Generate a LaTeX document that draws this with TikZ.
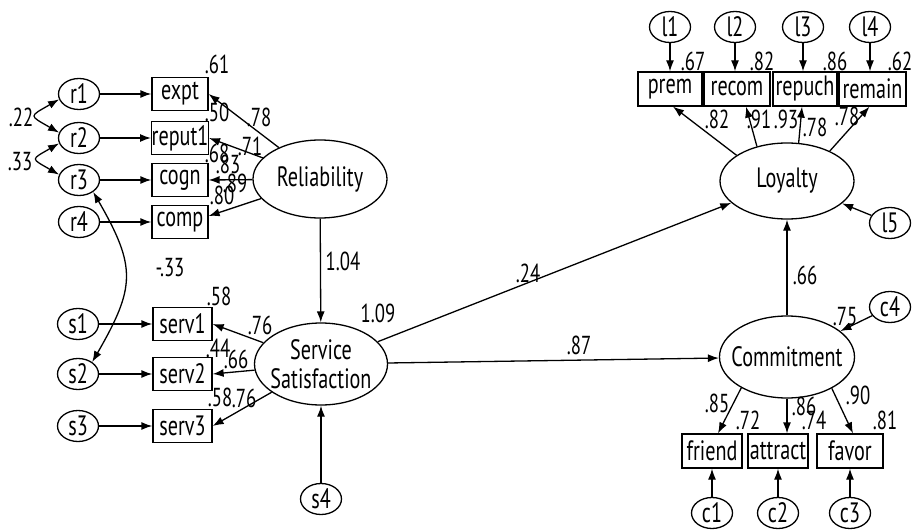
\documentclass[tikz,border=0pt]{standalone}
\usepackage{fontspec}
\setmainfont{PT Sans}[FakeStretch=0.72]
\usetikzlibrary{shapes.geometric,arrows.meta}

\begin{document}
\begin{tikzpicture}[x=1pt,y=1pt,>={Latex[length=11pt,width=8pt]},line width=1.3pt]

    \tikzset{
      err/.style={
        draw,
        ellipse,
        inner sep=0pt,
        minimum width=41pt,
        minimum height=31pt,
        font=\fontsize{28}{30}\selectfont,
      },
      lat/.style={
        draw,
        ellipse,
        inner sep=0pt,
        align=center,
        font=\fontsize{28}{29}\selectfont,
      },
      obs/.style={
        draw,
        rectangle,
        inner sep=0pt,
        minimum height=33pt,
        font=\fontsize{28}{30}\selectfont,
      },
      est/.style={
        inner sep=0pt,
        font=\fontsize{26}{28}\selectfont,
      },
    }

	\useasboundingbox (0,0) rectangle (920,531);

	% reliability block
	\node[err] (r1) at (79,437) {r1};
	\node[err] (r2) at (79,393) {r2};
	\node[err] (r3) at (79,351) {r3};
	\node[err] (r4) at (79,309) {r4};
	\node[obs,minimum width=56pt] (expt) at (180,437) {expt};
	\node[obs,minimum width=56pt] (reput1) at (180,393) {reput1};
	\node[obs,minimum width=56pt] (cogn) at (180,351) {cogn};
	\node[obs,minimum width=56pt] (comp) at (180,309) {comp};
	\node[lat,minimum width=134pt,minimum height=78pt] (rel) at (320,352) {Reliability};

	% service block
	\node[err] (s1) at (78,207) {s1};
	\node[err] (s2) at (78,157) {s2};
	\node[err] (s3) at (78,105) {s3};
	\node[err] (s4) at (321,32) {s4};
	\node[obs,minimum width=59pt] (serv1) at (182.5,207) {serv1};
	\node[obs,minimum width=59pt] (serv2) at (182.5,157) {serv2};
	\node[obs,minimum width=59pt] (serv3) at (182.5,105) {serv3};
	\node[lat,minimum width=133pt,minimum height=82pt,inner xsep=-6pt] (serv) at (321,167) {Service\\Satisfaction};

	% loyalty block
	\node[lat,minimum width=134pt,minimum height=76pt] (loy) at (787,350) {Loyalty};
	\node[err] (l1) at (670,504) {l1};
	\node[err] (l2) at (735,504) {l2};
	\node[err] (l3) at (803,504) {l3};
	\node[err] (l4) at (870,504) {l4};
	\node[err] (l5) at (890,308) {l5};
	\node[obs,minimum width=64pt,minimum height=34pt] (prem) at (670,442) {prem};
	\node[obs,minimum width=66pt,minimum height=34pt] (recom) at (737,442) {recom};
	\node[obs,minimum width=64pt,minimum height=34pt] (repuch) at (805,442) {repuch};
	\node[obs,minimum width=67pt,minimum height=34pt] (remain) at (872.5,442) {remain};

	% commitment block
	\node[lat,minimum width=135pt,minimum height=82pt,inner xsep=-14pt] (comm) at (787,174) {Commitment};
	\node[err] (c1) at (712,18) {c1};
	\node[err] (c2) at (778,18) {c2};
	\node[err] (c3) at (850,18) {c3};
	\node[err] (c4) at (890,224) {c4};
	\node[obs,minimum width=60pt,minimum height=34pt] (friend) at (712,80) {friend};
	\node[obs,minimum width=60pt,minimum height=34pt] (attract) at (778,80) {attract};
	\node[obs,minimum width=66pt,minimum height=34pt] (favor) at (850,80) {favor};

	% error arrows
	\draw[->] (r1) -- (expt);
	\draw[->] (r2) -- (reput1);
	\draw[->] (r3) -- (cogn);
	\draw[->] (r4) -- (comp);
	\draw[->] (s1) -- (serv1);
	\draw[->] (s2) -- (serv2);
	\draw[->] (s3) -- (serv3);
	\draw[->] (s4) -- (serv);
	\draw[->] (l1) -- (prem);
	\draw[->] (l2) -- (l2 |- recom.north);
	\draw[->] (l3) -- (l3 |- repuch.north);
	\draw[->] (l4) -- (l4 |- remain.north);
	\draw[->] (l5) -- (loy);
	\draw[->] (c1) -- (friend);
	\draw[->] (c2) -- (attract);
	\draw[->] (c3) -- (favor);
	\draw[->] (c4) -- (comm);

	% covariances
	\draw[<->] (r1.195) to[out=210,in=150,looseness=2.7] (r2.165);
	\draw[<->] (r2.195) to[out=210,in=150,looseness=2.7] (r3.165);
	\draw[<->] (r3.-40) to[out=-60,in=60,looseness=1.3] (s2.40);

	% loadings
	\draw[->] (rel) -- (expt.east);
	\draw[->] (rel) -- (reput1.east);
	\draw[->] (rel) -- (cogn.east);
	\draw[->] (rel) -- ([yshift=6pt]comp.east);
	\draw[->] (serv) -- (serv1.east);
	\draw[->] (serv) -- (serv2.east);
	\draw[->] (serv) -- (serv3.east);
	\draw[->] (loy.153) -- ([xshift=3pt]prem.south);
	\draw[->] (loy.131) -- ([xshift=9pt]recom.south);
	\draw[->] (loy.73) -- ([xshift=-3pt]repuch.south);
	\draw[->] (loy.35) -- ([xshift=-3pt]remain.south);
	\draw[->] (comm.214) -- ([xshift=6pt]friend.north);
	\draw[->] (comm.south) -- (comm.south |- attract.north);
	\draw[->] (comm.325) -- ([xshift=3pt]favor.north);

	% structural paths
	\draw[->] (rel) -- (serv);
	\draw[->] (serv) -- (loy);
	\draw[->] (serv) -- (comm);
	\draw[->] (comm) -- (loy);

	% estimates
	\node[est] (v-expt) at (217,467) {.61};
	\node[est] (v-reput1) at (217,419) {.50};
	\node[est] (w-expt) at (259,414) {.78};
	\node[est] (w-reput1) at (250,385) {.71};
	\node[est] (v-cogn) at (217,378) {.68};
	\node[est] (w-cogn) at (228,367) {.83};
	\node[est] (w-comp) at (235,348) {.89};
	\node[est] (v-comp) at (222,336) {.80};
	\node[est] (k-r12) at (21,414) {.22};
	\node[est] (k-r23) at (20,369) {.33};
	\node[est] (k-r3s2) at (170,263) {-.33};
	\node[est] (b-relserv) at (343,270) {1.04};
	\node[est] (v-serv) at (378,218) {1.09};
	\node[est] (v-serv1) at (219,235) {.58};
	\node[est] (w-serv1) at (260,206) {.76};
	\node[est] (v-serv2) at (218,183) {.44};
	\node[est] (w-serv2) at (236,172) {.66};
	\node[est] (v-serv3) at (220,134) {.58};
	\node[est] (w-serv3) at (244,133) {.76};
	\node[est] (b-servloy) at (528,258) {.24};
	\node[est] (b-servcomm) at (579,186) {.87};
	\node[est] (b-commloy) at (805,256) {.66};
	\node[est] (v-comm) at (845,214) {.75};
	\node[est] (w-friend) at (717,128) {.85};
	\node[est] (v-friend) at (748,111) {.72};
	\node[est] (w-attract) at (804,125) {.86};
	\node[est] (v-attract) at (814,111) {.74};
	\node[est] (w-favor) at (858,136) {.90};
	\node[est] (v-favor) at (885,111) {.81};
	\node[est] (v-prem) at (693,470) {.67};
	\node[est] (v-recom) at (762,470) {.82};
	\node[est] (v-repuch) at (835,470) {.86};
	\node[est] (v-remain) at (900,470) {.62};
	\node[est] (w-prem) at (717,412) {.82};
	\node[est] (w-recom) at (759,412) {.91};
	\node[est] (w-repuch) at (786,412) {.93};
	\node[est] (v-loy) at (815,404) {.78};
	\node[est] (w-remain) at (847,415) {.78};

\end{tikzpicture}
\end{document}
